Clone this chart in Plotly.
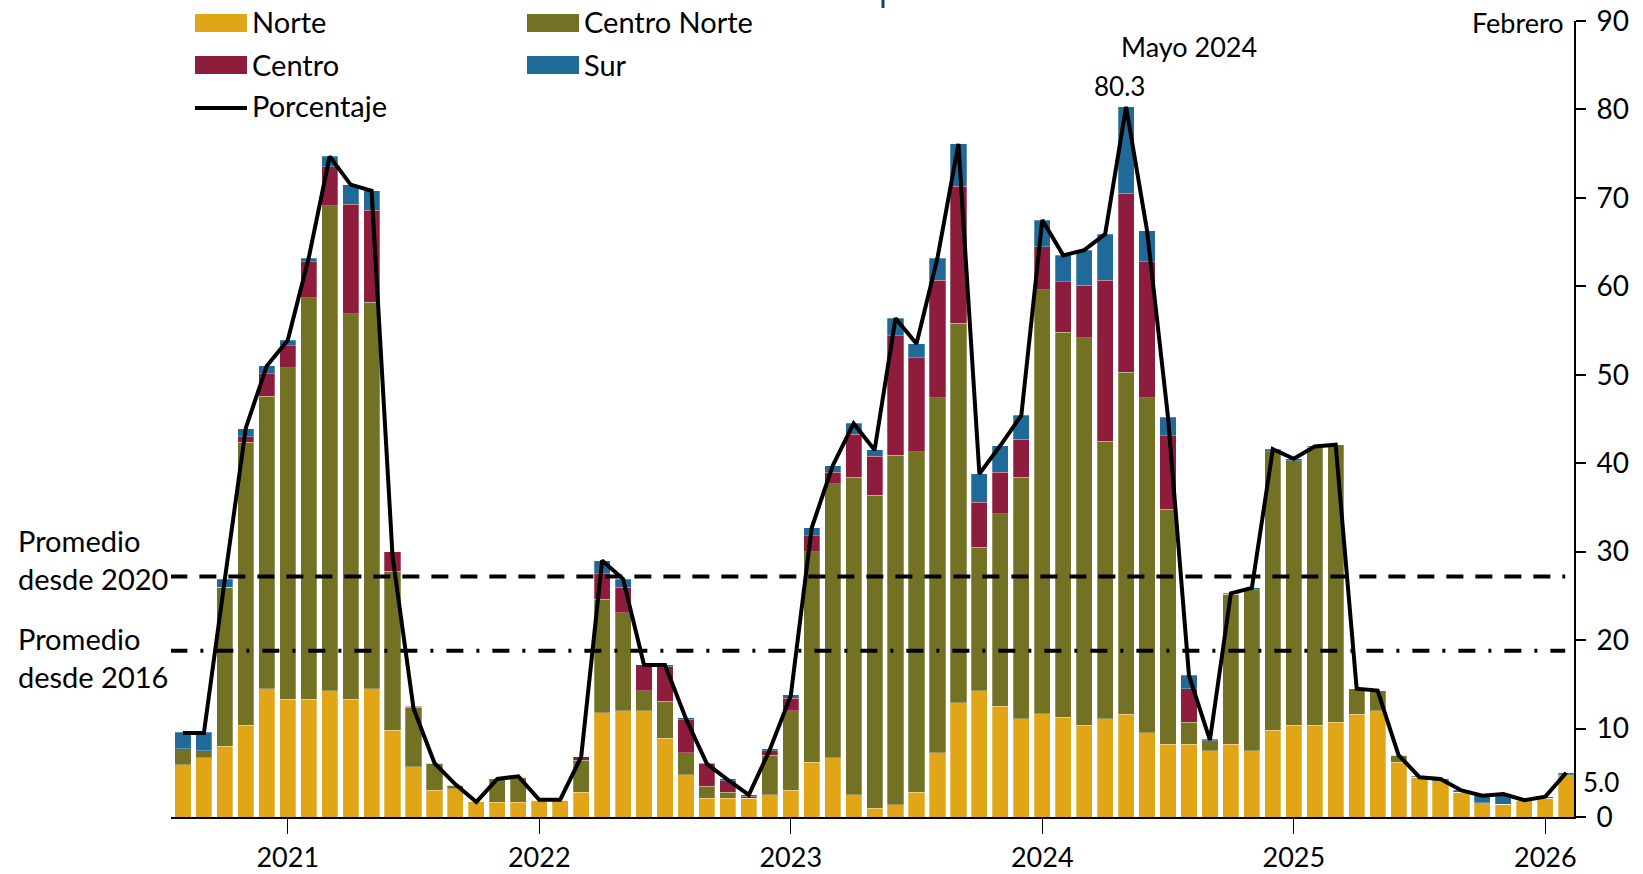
import plotly.graph_objects as go

# ---------------- data ----------------
months = [f"{y}-{m:02d}" for y, m in
          [(2020, m) for m in range(8, 13)] +
          [(y, m) for y in range(2021, 2026) for m in range(1, 13)] +
          [(2026, 1), (2026, 2)]]

norte = [5.9, 6.7, 8.0, 10.4, 14.5, 13.3, 13.3, 14.3, 13.3, 14.5, 9.8,
         5.7, 3.0, 3.2, 1.8, 1.65, 1.65, 1.9, 1.9, 2.8, 11.8, 12.0,
         12.0, 8.9, 4.8, 2.1, 2.1, 2.1, 2.5, 3.0, 6.2, 6.7, 2.5,
         1.0, 1.4, 2.8, 7.25, 12.9, 14.3, 12.5, 11.1, 11.7, 11.3, 10.4,
         11.1, 11.6, 9.5, 8.2, 8.2, 7.5, 8.2, 7.5, 9.8, 10.4, 10.4,
         10.7, 11.6, 12.0, 6.2, 4.5, 4.1, 2.8, 1.6, 1.45, 1.9, 2.1, 4.8]

centro_norte = [1.8, 0.8, 18.0, 32.0, 33.1, 37.5, 45.4, 54.8, 43.6, 43.7, 18.0,
                6.7, 3.1, 0.4, 0.0, 2.65, 2.85, 0.0, 0.0, 3.6, 12.8, 11.1,
                2.3, 4.2, 2.45, 1.4, 0.7, 0.0, 4.5, 9.0, 23.8, 31.0, 35.9,
                35.4, 39.5, 38.5, 40.15, 42.9, 16.2, 21.8, 27.3, 47.9, 43.5, 43.8,
                31.4, 38.7, 37.9, 26.6, 2.5, 1.1, 17.0, 18.2, 31.5, 29.9, 31.4,
                31.4, 2.9, 2.3, 0.8, 0.0, 0.0, 0.0, 0.0, 0.0, 0.0, 0.0, 0.0]

centro = [0.0, 0.0, 0.0, 0.6, 2.5, 2.5, 4.1, 4.4, 12.4, 10.4, 2.2,
          0.1, 0.0, 0.0, 0.0, 0.0, 0.0, 0.0, 0.0, 0.4, 2.9, 2.9,
          2.9, 3.9, 3.75, 2.5, 1.3, 0.25, 0.5, 1.4, 1.8, 1.3, 4.9,
          4.4, 13.5, 10.6, 13.3, 15.5, 5.1, 4.7, 4.3, 4.9, 5.7, 5.9,
          18.2, 20.2, 15.4, 8.3, 3.8, 0.0, 0.0, 0.0, 0.0, 0.0, 0.0,
          0.0, 0.0, 0.0, 0.0, 0.0, 0.0, 0.0, 0.0, 0.0, 0.0, 0.0, 0.0]

sur = [1.9, 2.1, 0.9, 0.9, 0.9, 0.6, 0.4, 1.2, 2.2, 2.2, 0.0,
       0.0, 0.0, 0.0, 0.0, 0.0, 0.0, 0.0, 0.0, 0.0, 1.5, 0.9,
       0.0, 0.2, 0.25, 0.1, 0.2, 0.15, 0.2, 0.4, 0.9, 0.7, 1.2,
       0.7, 2.0, 1.6, 2.5, 4.8, 3.2, 3.0, 2.7, 3.0, 3.0, 4.0,
       5.2, 9.8, 3.5, 2.1, 1.5, 0.2, 0.1, 0.2, 0.3, 0.2, 0.1,
       0.0, 0.0, 0.0, 0.0, 0.1, 0.2, 0.2, 0.8, 1.2, 0.0, 0.2, 0.2]

porcentaje = [9.5, 9.5, 26.9, 44.0, 51.0, 53.9, 63.2, 74.7, 71.5, 70.8, 29.5,
              12.3, 6.1, 3.7, 1.7, 4.3, 4.6, 1.95, 1.95, 6.8, 29.0, 26.9,
              17.2, 17.2, 11.1, 6.0, 4.2, 2.5, 7.6, 13.7, 32.7, 39.7, 44.5,
              41.5, 56.4, 53.5, 63.2, 76.1, 38.8, 42.0, 45.4, 67.5, 63.5, 64.1,
              65.9, 80.3, 66.3, 45.2, 16.0, 8.7, 25.3, 25.9, 41.6, 40.5, 41.9,
              42.1, 14.5, 14.3, 7.0, 4.5, 4.3, 3.0, 2.4, 2.6, 1.9, 2.3, 5.0]

promedio_2020 = 27.2
promedio_2016 = 18.8

year_ticks = ["2021-01", "2022-01", "2023-01", "2024-01", "2025-01", "2026-01"]
year_labels = ["2021", "2022", "2023", "2024", "2025", "2026"]
y_ticks = [0, 10, 20, 30, 40, 50, 60, 70, 80, 90]

# ---------------- style ----------------
C_NORTE = "#E0A617"
C_CNORTE = "#727124"
C_CENTRO = "#8E1C3C"
C_SUR = "#1F6A99"
FONT = "Lato"
FS = 29
FS_TICK = 28

W, H = 1643, 874
ML, MR, MT, MB = 171, 69, 21, 57
PW, PH = W - ML - MR, H - MT - MB


def xp(px):
    return (px - ML) / PW


def yp(py):
    return (H - MB - py) / PH


fig = go.Figure()
for name, vals, col in [("Norte", norte, C_NORTE),
                        ("Centro Norte", centro_norte, C_CNORTE),
                        ("Centro", centro, C_CENTRO),
                        ("Sur", sur, C_SUR)]:
    fig.add_trace(go.Bar(x=months, y=vals, name=name, marker_color=col,
                         marker_line=dict(width=0.6, color="rgba(255,255,255,0.45)"),
                         showlegend=False))

fig.add_trace(go.Scatter(x=months, y=porcentaje, name="Porcentaje", mode="lines",
                         line=dict(color="black", width=4), showlegend=False))

shapes = []
# average lines
shapes.append(dict(type="line", xref="x", yref="y", x0=-0.6, x1=65.95,
                   y0=promedio_2020, y1=promedio_2020,
                   line=dict(color="black", width=4, dash="17px,12px")))
shapes.append(dict(type="line", xref="x", yref="y", x0=-0.6, x1=65.95,
                   y0=promedio_2016, y1=promedio_2016,
                   line=dict(color="black", width=4, dash="17px,13px,3px,13px")))

# manual legend
legend_items = [("Norte", C_NORTE, 195, 23), ("Centro Norte", C_CNORTE, 527, 23),
                ("Centro", C_CENTRO, 195, 65), ("Sur", C_SUR, 527, 65)]
annotations = []
for label, col, x0, yc in legend_items:
    shapes.append(dict(type="rect", xref="paper", yref="paper",
                       x0=xp(x0), x1=xp(x0 + 52), y0=yp(yc - 9), y1=yp(yc + 9),
                       fillcolor=col, line=dict(width=0)))
    annotations.append(dict(text=label, xref="paper", yref="paper", x=xp(x0 + 55), y=yp(yc - 1),
                            xanchor="left", yanchor="middle", showarrow=False,
                            font=dict(family=FONT, size=FS, color="black")))
shapes.append(dict(type="line", xref="paper", yref="paper", x0=xp(195), x1=xp(247),
                   y0=yp(108), y1=yp(108), line=dict(color="black", width=4)))
annotations.append(dict(text="Porcentaje", xref="paper", yref="paper", x=xp(250), y=yp(105),
                        xanchor="left", yanchor="middle", showarrow=False,
                        font=dict(family=FONT, size=FS, color="black")))

# cropped title fragment at top
shapes.append(dict(type="line", xref="paper", yref="paper", x0=xp(883), x1=xp(883),
                   y0=yp(0), y1=yp(8), line=dict(color="#1F3A7A", width=3)))

annotations += [
    dict(text="Promedio<br>desde 2020", xref="paper", yref="paper", x=xp(16), y=yp(559),
         xanchor="left", yanchor="middle", align="left", showarrow=False,
         font=dict(family=FONT, size=FS, color="black")),
    dict(text="Promedio<br>desde 2016", xref="paper", yref="paper", x=xp(16), y=yp(657),
         xanchor="left", yanchor="middle", align="left", showarrow=False,
         font=dict(family=FONT, size=FS, color="black")),
    dict(text="80.3", x="2024-05", y=80.3, yshift=21, xshift=-7, showarrow=False,
         font=dict(family=FONT, size=26, color="black")),
    dict(text="Mayo 2024", x="2024-05", y=80.3, yshift=60, xshift=63, showarrow=False,
         font=dict(family=FONT, size=27, color="black")),
    dict(text="Febrero", xref="paper", yref="paper", x=xp(1566), y=yp(23),
         xanchor="right", yanchor="middle", showarrow=False,
         font=dict(family=FONT, size=27, color="black")),
    dict(text="5.0", xref="paper", yref="paper", x=xp(1601), y=yp(782),
         xanchor="center", yanchor="middle", showarrow=False,
         font=dict(family=FONT, size=26, color="black")),
]

fig.update_layout(
    barmode="stack", bargap=0.23,
    width=W, height=H,
    margin=dict(l=ML, r=MR, t=MT, b=MB, autoexpand=False),
    plot_bgcolor="white", paper_bgcolor="white",
    font=dict(family=FONT, size=FS, color="black"),
    shapes=shapes, annotations=annotations,
    showlegend=False,
)
fig.update_xaxes(type="category", range=[-0.57, 66.37], automargin=False,
                 tickmode="array", tickvals=year_ticks, ticktext=year_labels,
                 ticks="outside", ticklen=15, tickwidth=1, tickcolor="black",
                 showline=True, linecolor="black", linewidth=2,
                 showgrid=False, zeroline=False, ticklabelstandoff=1,
                 tickfont=dict(family=FONT, size=27, color="black"))
fig.update_yaxes(range=[0, 90], side="right", tickmode="array", tickvals=y_ticks,
                 automargin=False,
                 ticks="outside", ticklen=10, tickwidth=2, tickcolor="black",
                 showline=True, linecolor="black", linewidth=2,
                 showgrid=False, zeroline=False, ticklabelstandoff=5,
                 tickfont=dict(family=FONT, size=FS_TICK, color="black"))

fig.write_html("out.html", config={"displayModeBar": False},
               post_script="document.body.style.margin='0px';"
                           "document.body.style.overflow='hidden';")
